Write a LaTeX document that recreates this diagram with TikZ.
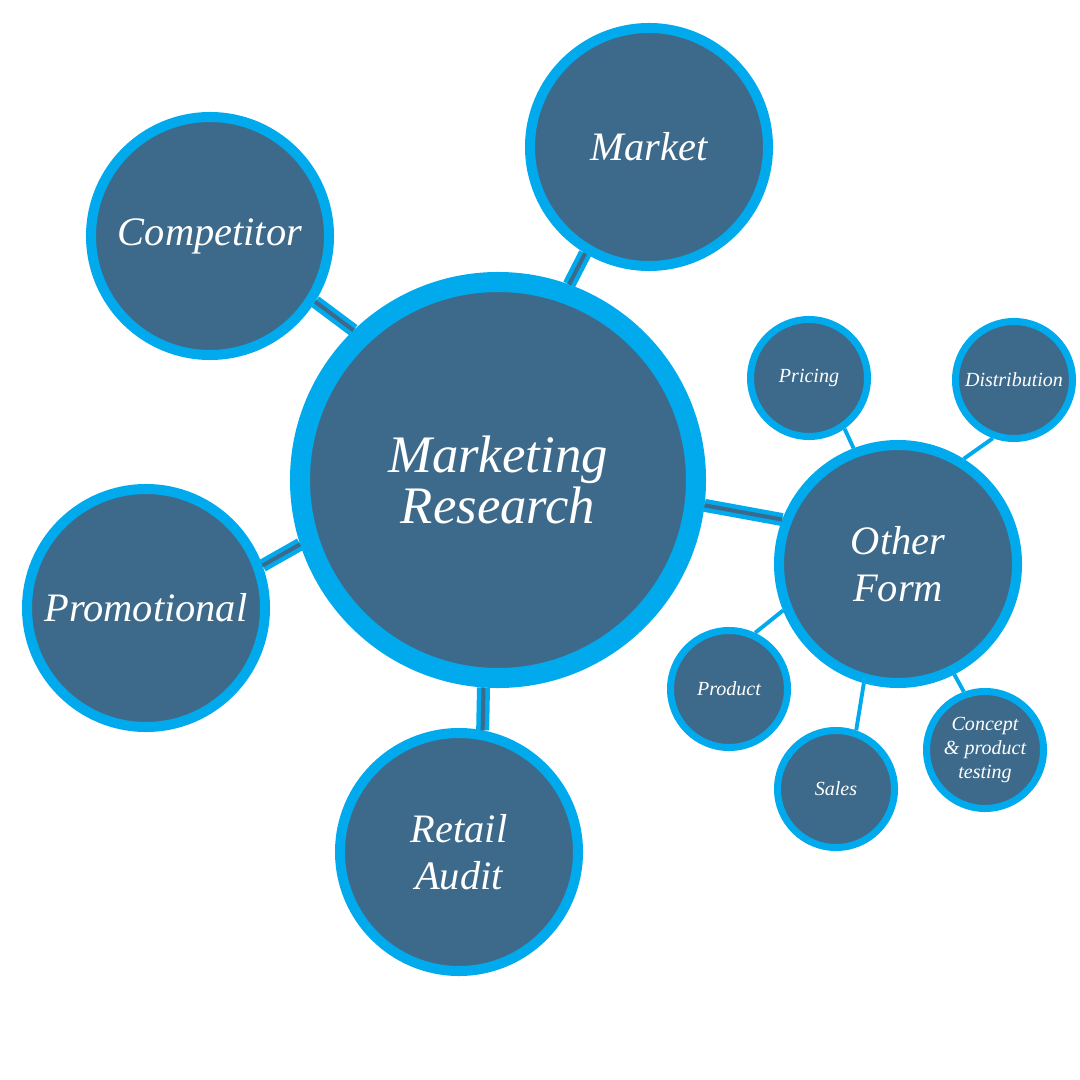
\documentclass[tikz,border=0pt]{standalone}
\usepackage{fontspec}
\setmainfont{Liberation Serif}
\usepackage{xcolor}
\usepackage{tikz}

\definecolor{bubblefill}{RGB}{61,106,139}
\definecolor{bubblering}{RGB}{0,170,236}

\tikzset{
    bubble/.style = {circle, fill=bubblefill, draw=bubblering, text=white, align=center, inner sep=0pt},
    hub/.style = {bubble, minimum size=3.96cm, line width=5.7pt, font=\fontsize{15}{13.4}\selectfont\itshape},
    topic/.style = {bubble, minimum size=2.38cm, line width=2.85pt, font=\fontsize{11.5}{13.4}\selectfont\itshape},
    leaf/.style = {bubble, minimum size=1.17cm, line width=2pt, font=\fontsize{5.7}{6.7}\selectfont\itshape},
    thicklink/.style = {draw=bubblering, double=bubblefill, line width=1.28pt, double distance=1.14pt},
    thinlink/.style = {draw=bubblering, line width=1.1pt}
}

\begin{document}
\begin{tikzpicture}
            \useasboundingbox (0,0) rectangle (10.8,-10.8);

            \node[hub] (research) at (4.98,-4.80) {Marketing\\Research};

            \node[topic] (market) at (6.49,-1.47) {Market};
            \node[topic] (competitor) at (2.10,-2.36) {Competitor};
            \node[topic] (promo) at (1.46,-6.08) {Promotional};
            \node[topic] (retail) at (4.59,-8.52) {Retail\\Audit};
            \node[topic] (other) at (8.98,-5.64) {Other\\Form};

            \node[leaf] (pricing) at (8.09,-3.78) {Pricing};
            \node[leaf] (distrib) at (10.14,-3.80) {Distribution};
            \node[leaf] (product) at (7.29,-6.89) {Product};
            \node[leaf] (sales) at (8.36,-7.89) {Sales};
            \node[leaf] (concept) at (9.85,-7.50) {Concept\\\& product\\testing};

            \draw[thicklink] (research.134) -- (competitor.-32);
            \draw[thicklink] (research.70) -- (market.239);
            \draw[thicklink] (research.198) -- (promo.20);
            \draw[thicklink] (research.266) -- (retail.79);
            \draw[thicklink] (research.-7) -- (other.159);

            \draw[thinlink] (other.111) -- (pricing.-55);
            \draw[thinlink] (other.58) -- (distrib.250);
            \draw[thinlink] (other.202) -- (product.65);
            \draw[thinlink] (other.254) -- (sales.71);
            \draw[thinlink] (other.-63) -- (concept.110);
        \end{tikzpicture}
\end{document}
